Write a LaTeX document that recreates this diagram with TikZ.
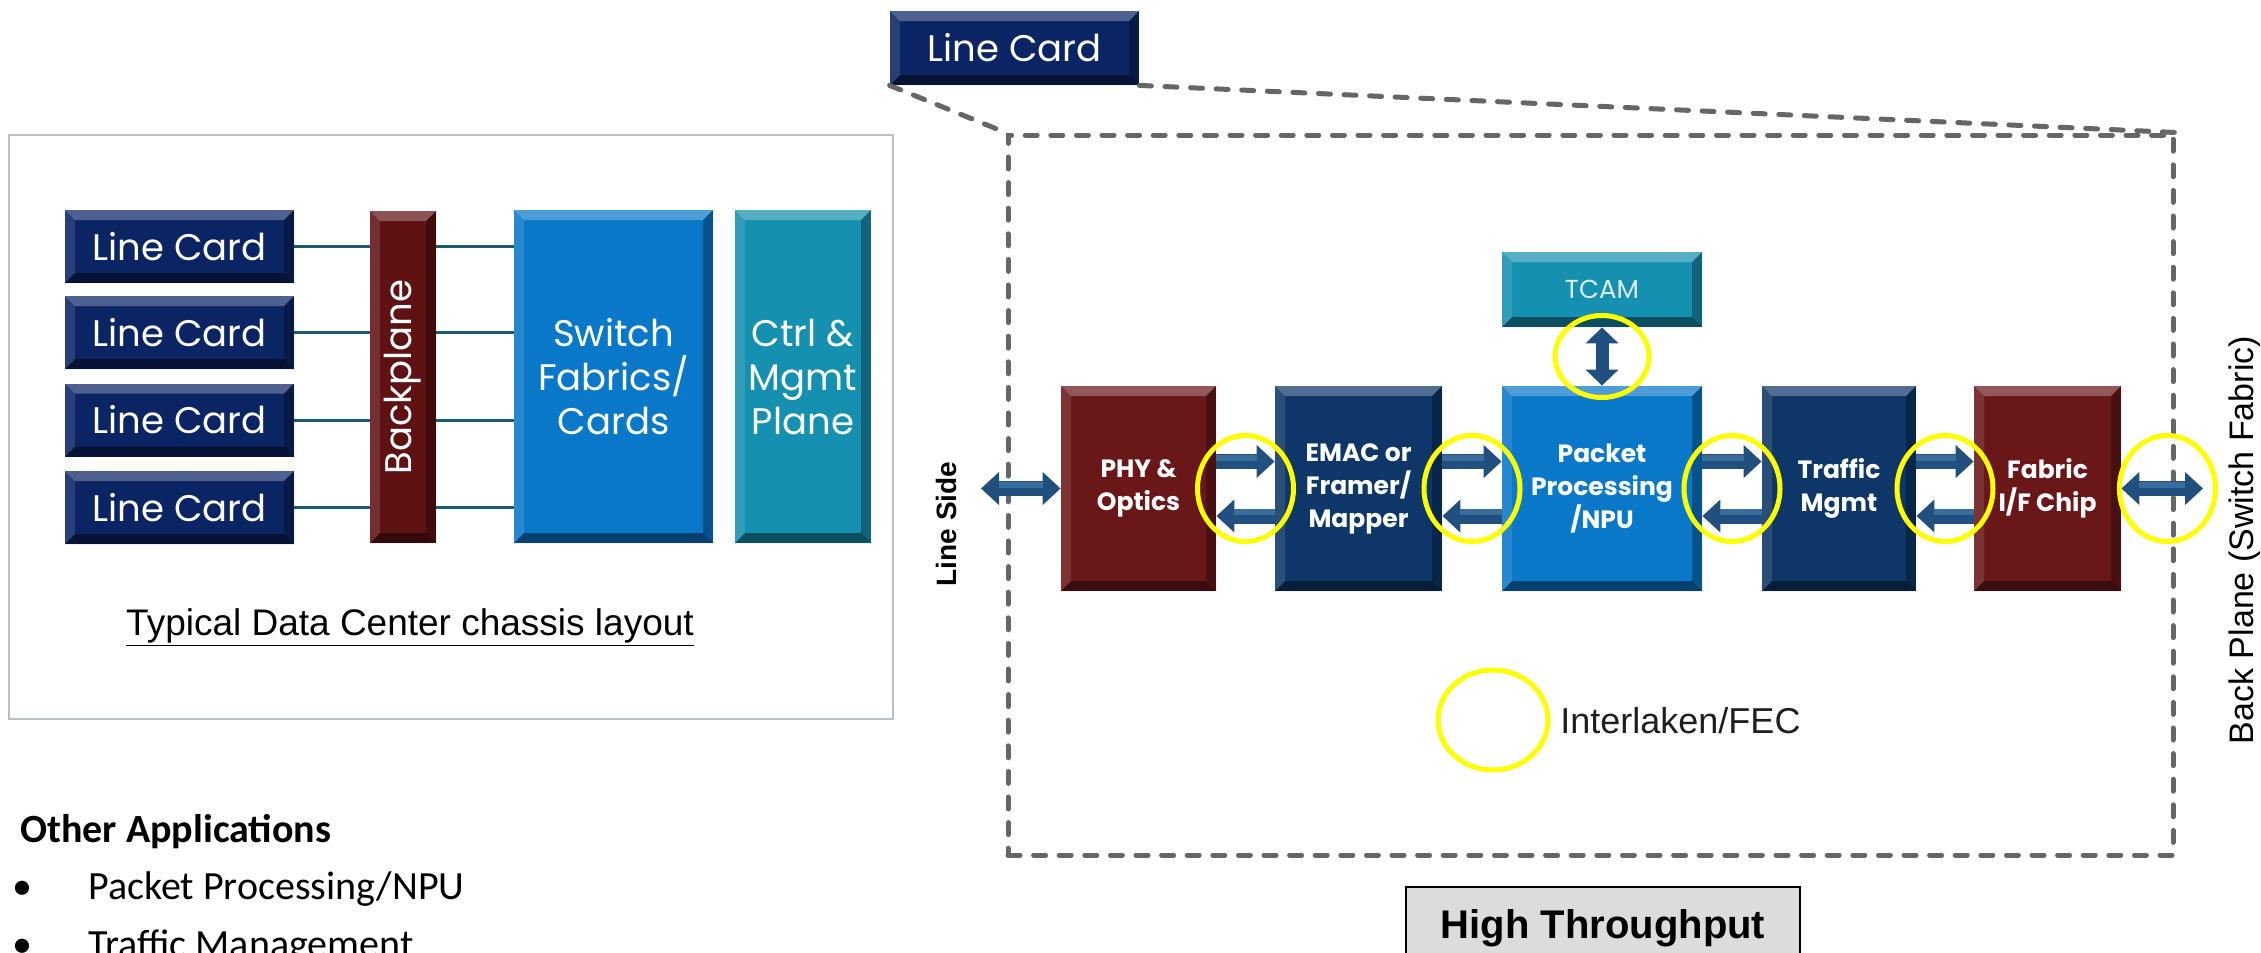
\documentclass[tikz,border=0pt]{standalone}
\usepackage{graphicx}
\usepackage{fontspec}
\setmainfont{Liberation Sans}
\newfontfamily\geo{Poppins}
\newfontfamily\calib{Carlito}
\usetikzlibrary{arrows.meta,calc}

\definecolor{navy}{HTML}{0B2464}
\definecolor{chipnavy}{HTML}{0E3667}
\definecolor{wine}{HTML}{6A1719}
\definecolor{bpred}{HTML}{5F1214}
\definecolor{brightblue}{HTML}{0A78C9}
\definecolor{tealbox}{HTML}{1690B0}
\definecolor{arrowblue}{HTML}{22507E}
\definecolor{arrowlight}{HTML}{3A6C9C}
\definecolor{wire}{HTML}{1D5A70}
\definecolor{dashgray}{HTML}{666666}
\definecolor{framegray}{HTML}{B8C0C8}
\definecolor{hlyellow}{HTML}{FFFF00}
\definecolor{tagfill}{HTML}{DCDCDC}

\newcommand\bvl{5pt}
\newcommand\cardfont{\geo\fontsize{18.5pt}{22pt}\selectfont}
\newcommand\chipfont{\geo\bfseries\fontsize{12.5pt}{16.5pt}\selectfont}

\begin{document}
\begin{tikzpicture}[x=0.5pt,y=-0.5pt,
  bevel/.style={path picture={
    \path (path picture bounding box.north west) coordinate (bnw)
          (path picture bounding box.north east) coordinate (bne)
          (path picture bounding box.south west) coordinate (bsw)
          (path picture bounding box.south east) coordinate (bse);
    \fill[white,opacity=.28] (bnw) -- (bne) -- ([shift={(-\bvl,-\bvl)}]bne) -- ([shift={(\bvl,-\bvl)}]bnw) -- cycle;
    \fill[black,opacity=.45] (bsw) -- (bse) -- ([shift={(-\bvl,\bvl)}]bse) -- ([shift={(\bvl,\bvl)}]bsw) -- cycle;
    \fill[white,opacity=.12] (bnw) -- ([shift={(\bvl,-\bvl)}]bnw) -- ([shift={(\bvl,\bvl)}]bsw) -- (bsw) -- cycle;
    \fill[black,opacity=.30] (bne) -- ([shift={(-\bvl,-\bvl)}]bne) -- ([shift={(-\bvl,\bvl)}]bse) -- (bse) -- cycle;
  }},
  card/.style={bevel, fill=navy, text=white, inner sep=0pt, font=\cardfont,
               minimum width=114.5pt, minimum height=36.5pt},
  panel/.style={bevel, text=white, inner sep=0pt, align=center, font=\cardfont},
  chip/.style={bevel, text=white, inner sep=0pt, align=center, font=\chipfont,
               minimum height=102.5pt},
  wireline/.style={draw=wire, line width=1.5pt},
  dashedline/.style={draw=dashgray, line width=2.5pt, line cap=round,
                     dash pattern=on 6pt off 6.8pt},
  link/.style={draw=arrowblue, line width=7.5pt,
               -{Triangle[width=16pt,length=9pt]},
               postaction={draw=arrowlight, line width=3pt, -, shorten >=9pt,
                           transform canvas={yshift=2pt}}},
  duallink/.style={draw=arrowblue, line width=7.5pt,
               {Triangle[width=16pt,length=9pt]}-{Triangle[width=16pt,length=9pt]},
               postaction={draw=arrowlight, line width=3pt, -, shorten >=9pt, shorten <=9pt,
                           transform canvas={yshift=2pt}}},
  ring/.style={draw=hlyellow, line width=2.5pt}
]
\useasboundingbox (0,0) rectangle (2261,953);
\clip (0,0) rectangle (2261,953);

% ---------- chassis layout ----------
\node[draw=framegray, line width=1.2pt, minimum width=442pt, minimum height=292pt,
      inner sep=0pt] (chassis) at (451,427) {};

\node[card] (lc1) at (179.5,246.5) {Line Card};
\node[card] (lc2) at (179.5,332.5) {Line Card};
\node[card] (lc3) at (179.5,420)   {Line Card};
\node[card] (lc4) at (179.5,507.5) {Line Card};

\node[panel, fill=bpred, minimum width=33pt, minimum height=166pt] (bp) at (403,377)
  {\rotatebox{90}{Backplane}};
\node[panel, fill=brightblue, minimum width=99.5pt, minimum height=166.5pt] (sw) at (613.5,376.5)
  {Switch\\Fabrics/\\Cards};
\node[panel, fill=tealbox, minimum width=68pt, minimum height=166.5pt] (ctrl) at (803,376.5)
  {Ctrl \&\\Mgmt\\Plane};

\foreach \c in {lc1,lc2,lc3,lc4}{
  \draw[wireline] (\c.east) -- (bp.west |- \c.east);
  \draw[wireline] (bp.east |- \c.east) -- (sw.west |- \c.east);
}

\node[anchor=base, font=\fontsize{18.5pt}{21pt}\selectfont] (cap) at (410,635)
  {\underline{Typical Data Center chassis layout}};

% ---------- other applications ----------
\node[anchor=base west, inner sep=0pt, font=\calib\bfseries\fontsize{20pt}{24pt}\selectfont]
  (oa) at (20,842) {Other Applications};
\node[anchor=base west, inner sep=0pt, font=\calib\fontsize{20pt}{24pt}\selectfont]
  (oa1) at (20,899) {\makebox[34pt][l]{\kern-4pt•}Packet Processing/NPU};
\node[anchor=base west, inner sep=0pt, font=\calib\fontsize{20pt}{24pt}\selectfont]
  (oa2) at (20,957) {\makebox[34pt][l]{\kern-4pt•}Traffic Management};

% ---------- line card detail ----------
\node[dashedline, minimum width=582.5pt, minimum height=360pt, inner sep=0pt] (lcbox) at (1590.5,495) {};
\node[card, minimum width=124.5pt, minimum height=37pt] (lc0) at (1014.5,48) {Line Card};
\draw[dashedline] (lc0.south west) -- (lcbox.north west);
\draw[dashedline] (lc0.south east) -- (lcbox.north east);

\node[bevel, fill=tealbox, text=white!85!tealbox, inner sep=0pt, minimum width=100pt,
      minimum height=37.5pt, font=\geo\fontsize{13pt}{15pt}\selectfont] (tcam) at (1602,289.5) {TCAM};

\node[chip, fill=wine,       minimum width=77.5pt] (phy)  at (1138.5,488.5) {PHY \&\\Optics};
\node[chip, fill=chipnavy,   minimum width=83.5pt] (emac) at (1358.5,488.5) {EMAC or\\Framer/\\Mapper};
\node[chip, fill=brightblue, minimum width=100pt]  (npu)  at (1602,488.5)   {Packet\\Processing\\/NPU};
\node[chip, fill=chipnavy,   minimum width=77pt]   (tm)   at (1839,488.5)   {Traffic\\Mgmt};
\node[chip, fill=wine,       minimum width=73.5pt] (fab)  at (2047.5,488.5) {Fabric\\I/F Chip};

\foreach \a/\b in {phy/emac, emac/npu, npu/tm, tm/fab}{
  \draw[link] ([yshift=13.5pt]\a.east) -- ([yshift=13.5pt]\b.west);
  \draw[link] ([yshift=-13.75pt]\b.west) -- ([yshift=-13.75pt]\a.east);
  \draw[ring] ($(\a.east)!0.5!(\b.west)$) ellipse [x radius=24pt, y radius=26.5pt];
}

\coordinate (lineend) at (981,488.5);
\draw[duallink] (lineend) -- (phy.west);
\coordinate (planeend) at (2203,488.5);
\draw[duallink] (fab.east) -- (planeend);
\draw[ring] ($(fab.east)+(46,0)$) ellipse [x radius=24pt, y radius=26.5pt];

\draw[draw=arrowblue, line width=6.5pt,
      {Triangle[width=16pt,length=8pt]}-{Triangle[width=16pt,length=8pt]}] (tcam.south) -- (npu.north);
\draw[ring] ($(tcam.south)!0.5!(npu.north)$) ellipse [x radius=23.5pt, y radius=20.5pt];

% legend
\draw[ring] (1493,720) ellipse [x radius=27.5pt, y radius=25pt];
\node[anchor=base west, inner sep=0pt, text=black!88, font=\fontsize{18pt}{21pt}\selectfont]
  (legend) at (1560,733) {Interlaken/FEC};

% side labels
\node[rotate=90, font=\bfseries\fontsize{14pt}{17pt}\selectfont] (linelbl) at (946,524) {Line Side};
\node[rotate=90, font=\fontsize{17pt}{20pt}\selectfont] (planelbl) at (2245,540) {Back Plane (Switch Fabric)};

% tag
\node[draw=black, line width=0.8pt, fill=tagfill, minimum width=197pt, minimum height=41pt,
      anchor=north, font=\bfseries\fontsize{20pt}{24pt}\selectfont] (ht) at (1603,886) {High Throughput};
\end{tikzpicture}
\end{document}
